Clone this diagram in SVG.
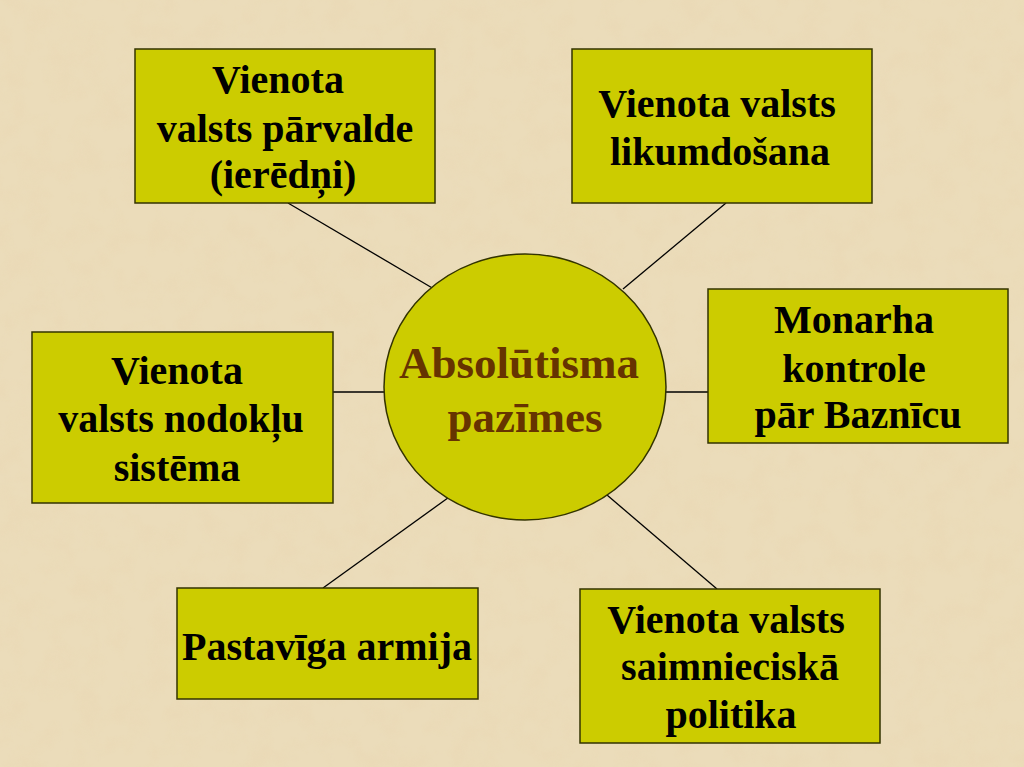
<svg xmlns="http://www.w3.org/2000/svg" width="1024" height="767" viewBox="0 0 1024 767">
<style>
.box{fill:#CCCC00;stroke:#333300;stroke-width:1.5}
.t{font-family:"Liberation Serif","Times New Roman",serif;font-weight:bold;font-size:40px;fill:#000;text-anchor:middle}
.c{font-family:"Liberation Serif","Times New Roman",serif;font-weight:bold;font-size:45px;fill:#663300;text-anchor:middle}
.ln{stroke:#000;stroke-width:1.3;fill:none}
</style>
<defs>
<filter id="tex" x="0" y="0" width="100%" height="100%">
<feTurbulence type="fractalNoise" baseFrequency="0.04" numOctaves="4" seed="7" result="n"/>
<feColorMatrix in="n" type="matrix" values="0 0 0 0 0.82  0 0 0 0 0.68  0 0 0 0 0.45  0 0 0 1.4 -0.55" result="m"/>
<feComposite in="m" in2="SourceGraphic" operator="in"/>
</filter>
</defs>
<rect x="0" y="0" width="1024" height="767" fill="#EBDCBA"/>
<rect x="0" y="0" width="1024" height="767" fill="#EBDCBA" filter="url(#tex)" opacity="0.75"/>
<g id="connectors">
<line class="ln" x1="288" y1="203" x2="434" y2="289"/>
<line class="ln" x1="726" y1="203" x2="623" y2="289"/>
<line class="ln" x1="333" y1="392" x2="384" y2="392"/>
<line class="ln" x1="666" y1="392" x2="708" y2="392"/>
<line class="ln" x1="323" y1="588" x2="452" y2="495"/>
<line class="ln" x1="717" y1="589" x2="607" y2="495"/>
</g>
<g id="center">
<ellipse cx="525" cy="387" rx="141" ry="133" fill="#CCCC00" stroke="#333300" stroke-width="1.5"/>
<text class="c" x="519" y="378">Absolūtisma</text>
<text class="c" x="525" y="432">pazīmes</text>
</g>
<g id="n1">
<rect class="box" x="135" y="49" width="300" height="154"/>
<text class="t" x="278" y="93">Vienota</text>
<text class="t" x="285" y="142">valsts pārvalde</text>
<text class="t" x="283" y="188">(ierēdņi)</text>
</g>
<g id="n2">
<rect class="box" x="572" y="49" width="300" height="154"/>
<text class="t" x="717" y="117">Vienota valsts</text>
<text class="t" x="720" y="165">likumdošana</text>
</g>
<g id="n3">
<rect class="box" x="32" y="332" width="301" height="171"/>
<text class="t" x="177" y="384">Vienota</text>
<text class="t" x="181" y="432">valsts nodokļu</text>
<text class="t" x="177" y="481">sistēma</text>
</g>
<g id="n4">
<rect class="box" x="708" y="289" width="300" height="154"/>
<text class="t" x="854" y="333">Monarha</text>
<text class="t" x="854" y="382">kontrole</text>
<text class="t" x="858" y="428">pār Baznīcu</text>
</g>
<g id="n5">
<rect class="box" x="177" y="588" width="301" height="111"/>
<text class="t" x="327" y="660">Pastavīga armija</text>
</g>
<g id="n6">
<rect class="box" x="580" y="589" width="300" height="154"/>
<text class="t" x="726" y="633">Vienota valsts</text>
<text class="t" x="730" y="680">saimnieciskā</text>
<text class="t" x="731" y="728">politika</text>
</g>
</svg>
